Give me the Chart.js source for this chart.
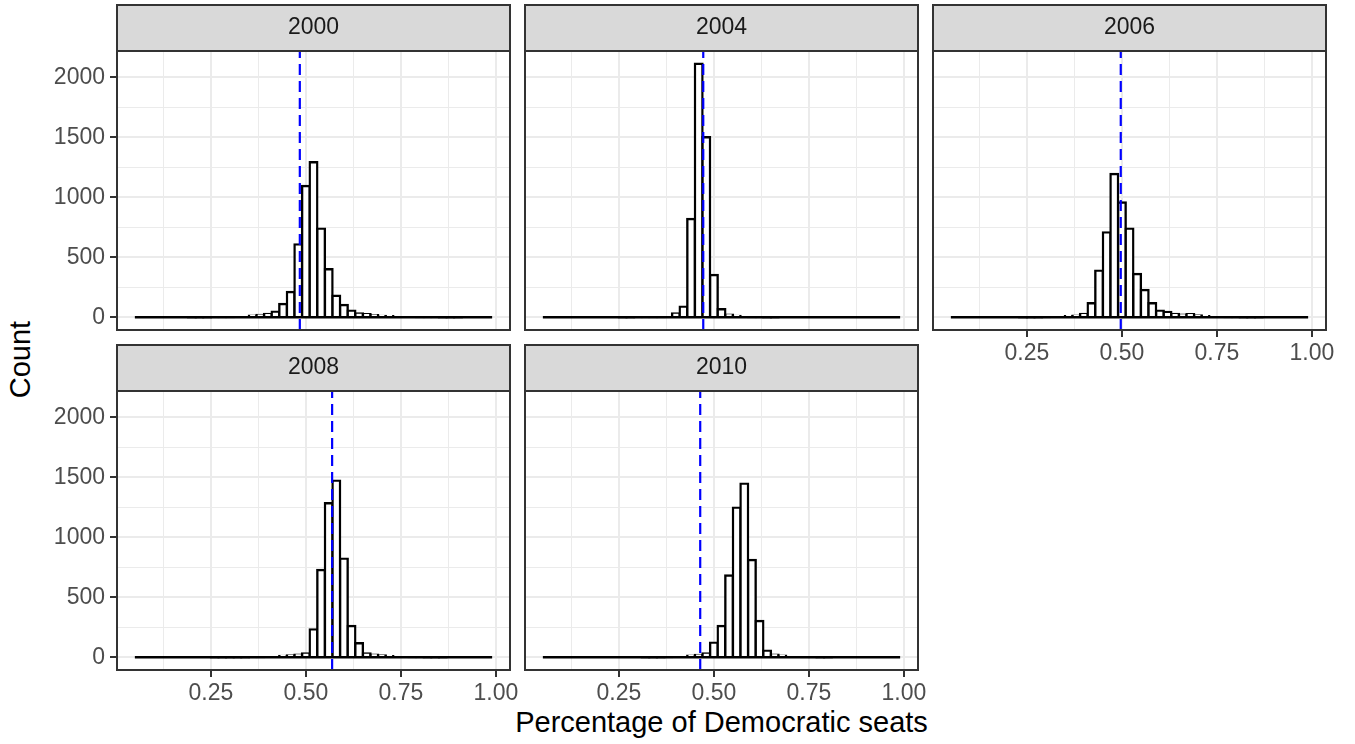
<!DOCTYPE html>
<html>
<head>
<meta charset="utf-8">
<script src="https://cdn.jsdelivr.net/npm/chart.js@4.4.1/dist/chart.umd.min.js"></script>
<style>
body{margin:0;background:#fff;width:1355px;height:744px;overflow:hidden;position:relative;font-family:"Liberation Sans",Arial,sans-serif}
canvas{position:absolute}
#xTitle{position:absolute;left:117px;width:1209px;top:708px;height:29px;line-height:29px;text-align:center;font-size:29px;color:#000}
#yTitle{position:absolute;left:-80px;top:345px;width:200px;height:29px;line-height:29px;text-align:center;font-size:29px;color:#000;transform:rotate(-90deg)}
</style>
</head>
<body>
<div id="xTitle">Percentage of Democratic seats</div>
<div id="yTitle">Count</div>
<script>

// histogram bins (centres, width 0.02)
const binCenters = [0.06,0.08,0.10,0.12,0.14,0.16,0.18,0.20,0.22,0.24,0.26,0.28,0.30,0.32,0.34,0.36,
  0.38,0.40,0.42,0.44,0.46,0.48,0.50,0.52,0.54,0.56,0.58,0.60,0.62,0.64,0.66,0.68,0.70,0.72,0.74,
  0.76,0.78,0.80,0.82,0.84,0.86,0.88,0.90,0.92,0.94,0.96,0.98]

const years = ["2000","2004","2006","2008","2010"]

const counts2000 = [0,0,0,0,0,0,0,1,1,1,2,2,3,5,8,14,19,28,47,111,211,608,1094,1292,739,400,180,103,56,33,25,18,12,9,7,5,4,3,2,2,1,1,1,0,0,0,0]
const counts2004 = [0,0,0,0,0,0,0,0,0,0,1,1,2,2,2,3,8,33,89,819,2113,1500,353,67,22,12,6,3,2,1,1,0,0,0,0,0,0,0,0,0,0,0,0,0,0,0,0]
const counts2006 = [0,0,0,0,0,0,0,0,0,1,1,1,2,4,7,10,14,28,117,389,708,1194,956,739,361,228,117,56,44,28,22,25,16,10,7,5,3,2,1,1,1,0,0,0,0,0,0]
const counts2008 = [0,0,0,0,0,0,0,0,0,0,1,1,1,1,1,2,3,5,8,12,16,22,33,233,728,1283,1472,822,261,117,33,22,16,10,7,5,3,2,1,1,1,0,0,0,0,0,0]
const counts2010 = [0,0,0,0,0,0,0,0,0,0,0,0,0,1,1,1,2,4,8,14,19,33,122,261,681,1247,1447,811,303,56,22,14,8,5,3,2,1,1,0,0,0,0,0,0,0,0,0]

// observed share, drawn as the dashed line
const actualShare = [0.484, 0.472, 0.497, 0.569, 0.464]

const xTicks = [0.125,0.25,0.375,0.5,0.625,0.75,0.875,1]
const yTicks = [0,250,500,750,1000,1250,1500,1750,2000]

const allCounts = [counts2000,counts2004,counts2006,counts2008,counts2010]

Chart.defaults.font.family = '"Liberation Sans", Arial, sans-serif'

// shared scales, ggplot style 5% expansion
const binWidth = binCenters[1]-binCenters[0]
const lo = binCenters[0]-binWidth/2
const hi = binCenters[binCenters.length-1]+binWidth/2
const xMin = lo-(hi-lo)*0.05
const xMax = hi+(hi-lo)*0.05
const maxCount = Math.max(...allCounts.map(c=>Math.max(...c)))
const yMin = -maxCount*0.05
const yMax = maxCount*1.05

const colLeft = [117,525,933]
const rowTop = [51,391]
const plotW = 393
const plotH = 279
const panels = [
  {col:0,row:0,xAxis:false},
  {col:1,row:0,xAxis:false},
  {col:2,row:0,xAxis:true},
  {col:0,row:1,xAxis:true},
  {col:1,row:1,xAxis:true}
]

const isMajorX = v => Math.abs(v*4-Math.round(v*4)) < 1e-9
const isMajorY = v => v % 500 === 0

// grey strip with the year on top, dark border round the panel
const stripPlugin = {
  id:"strip",
  afterDraw(chart, args, opts){
    const {ctx, chartArea:a} = chart
    const w = a.right-a.left
    ctx.save()
    ctx.fillStyle = "#D9D9D9"
    ctx.fillRect(a.left, a.top-46, w, 46)
    ctx.strokeStyle = "#333333"
    ctx.lineWidth = 2
    ctx.strokeRect(a.left, a.top-46, w, 46)
    ctx.strokeRect(a.left, a.top, w, a.bottom-a.top)
    ctx.fillStyle = "#1A1A1A"
    ctx.font = '23px "Liberation Sans", Arial, sans-serif'
    ctx.textAlign = "center"
    ctx.textBaseline = "middle"
    ctx.fillText(opts.label, a.left+w/2, a.top-23.5)
    ctx.restore()
  }
}

panels.forEach((p,i)=>{

  const padL = p.col===0 ? 112 : 10
  const padT = 50
  const padR = 30
  const padB = 42

  const canvas = document.createElement("canvas")
  canvas.width = plotW+padL+padR
  canvas.height = plotH+padT+padB
  canvas.style.left = (colLeft[p.col]-padL)+"px"
  canvas.style.top = (rowTop[p.row]-padT)+"px"
  document.body.appendChild(canvas)

  const counts = allCounts[i]

  new Chart(canvas.getContext("2d"),{
    type:"bar",
    data:{
      datasets:[
        {
          type:"line",
          data:[{x:actualShare[i],y:yMin},{x:actualShare[i],y:yMax}],
          borderColor:"#0000FF",
          borderWidth:2.2,
          borderDash:[11,6],
          pointRadius:0,
          order:0
        },
        {
          type:"line",
          data:[{x:lo,y:0},{x:hi,y:0}],
          borderColor:"#000000",
          borderWidth:2.6,
          pointRadius:0,
          order:1
        },
        {
          type:"bar",
          data:binCenters.map((x,k)=>({x:x,y:counts[k]})),
          backgroundColor:"#FFFFFF",
          borderColor:"#000000",
          borderWidth:2.4,
          inflateAmount:1.2,
          barPercentage:1,
          categoryPercentage:1,
          order:2
        }
      ]
    },
    options:{
      responsive:false,
      animation:false,
      devicePixelRatio:1,
      events:[],
      layout:{padding:{top:padT,right:padR,left:0,bottom:0}},
      plugins:{
        legend:{display:false},
        tooltip:{enabled:false},
        strip:{label:years[i]}
      },
      scales:{
        x:{
          type:"linear",
          min:xMin,
          max:xMax,
          offset:false,
          afterBuildTicks:s=>{ s.ticks = xTicks.map(v=>({value:v})) },
          afterFit:s=>{ s.height = padB },
          border:{display:false},
          grid:{
            offset:false,
            color:"#EBEBEB",
            lineWidth:c=>isMajorX(c.tick.value) ? 2 : 1,
            drawTicks:p.xAxis,
            tickLength:7,
            tickWidth:2,
            tickColor:c=>isMajorX(c.tick.value) ? "#333333" : "rgba(0,0,0,0)"
          },
          ticks:{
            display:p.xAxis,
            autoSkip:false,
            maxRotation:0,
            padding:3,
            color:"#4D4D4D",
            font:{size:23},
            callback:v=>isMajorX(v) ? v.toFixed(2) : ""
          }
        },
        y:{
          type:"linear",
          min:yMin,
          max:yMax,
          afterBuildTicks:s=>{ s.ticks = yTicks.map(v=>({value:v})) },
          afterFit:s=>{ s.width = padL },
          border:{display:false},
          grid:{
            color:"#EBEBEB",
            lineWidth:c=>isMajorY(c.tick.value) ? 2 : 1,
            drawTicks:p.col===0,
            tickLength:7,
            tickWidth:2,
            tickColor:c=>isMajorY(c.tick.value) ? "#333333" : "rgba(0,0,0,0)"
          },
          ticks:{
            display:p.col===0,
            autoSkip:false,
            padding:5,
            color:"#4D4D4D",
            font:{size:23},
            callback:v=>isMajorY(v) ? String(v) : ""
          }
        }
      }
    },
    plugins:[stripPlugin]
  })

})

</script>
</body>
</html>
